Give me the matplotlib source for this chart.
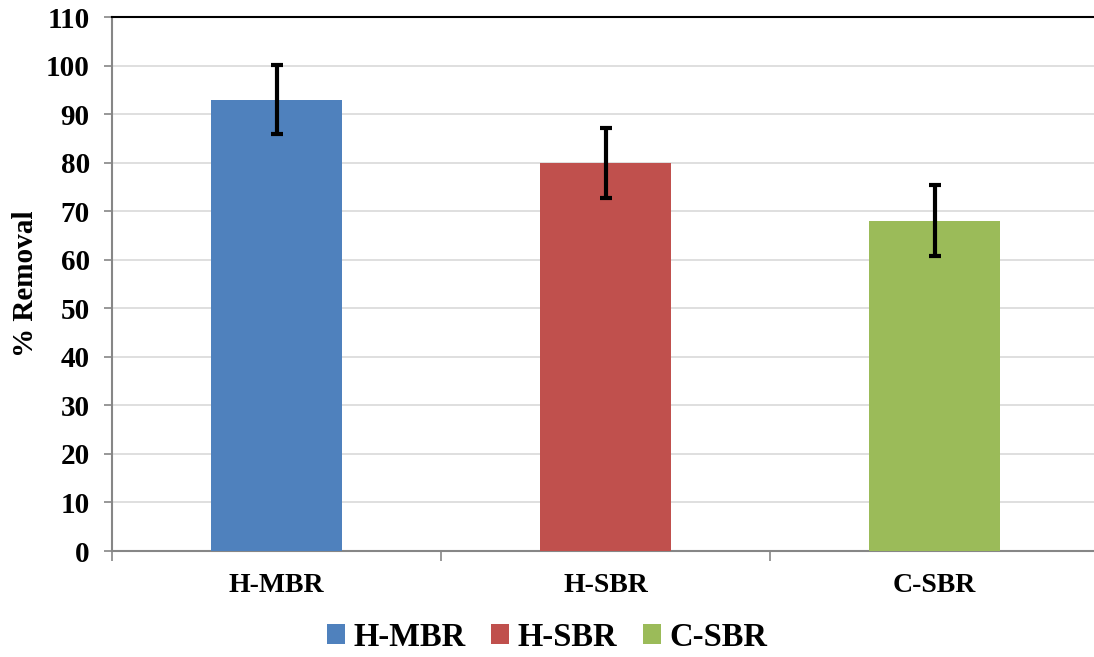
import matplotlib
matplotlib.use("Agg")
import matplotlib.pyplot as plt
from matplotlib.patches import Patch

categories = ["H-MBR", "H-SBR", "C-SBR"]
removal = [93, 80, 68]
errors = [7.2, 7.2, 7.3]
colors = ["#4f81bd", "#c0504d", "#9bbb59"]

plt.rcParams["font.family"] = ["Liberation Serif", "DejaVu Serif"]
plt.rcParams["font.weight"] = "bold"

fig = plt.figure(figsize=(10.94, 6.57), dpi=100)
ax = fig.add_axes([112 / 1094, 1 - 551 / 657, (1099 - 112) / 1094, (551 - 17) / 657])

x = range(len(categories))
ax.bar(x, removal, width=0.4, color=colors, zorder=3)
ax.errorbar(x, removal, yerr=errors, fmt="none", ecolor="black",
            elinewidth=3, capsize=4.5, capthick=3, zorder=4)

ax.set_xlim(-0.5, 2.5)
ax.set_ylim(0, 110)
ax.set_yticks(range(0, 111, 10))
ax.grid(axis="y", color="#d9d9d9", linewidth=1.2, zorder=0)
ax.set_axisbelow(True)

ax.set_xticks(list(x))
ax.set_xticklabels(categories, fontsize=20, fontweight="bold")
ax.tick_params(axis="x", which="major", length=0, pad=16)
ax.set_xticks([-0.5, 0.5, 1.5, 2.5], minor=True)
ax.tick_params(axis="x", which="minor", length=7, color="#868686", width=1.2)
ax.tick_params(axis="y", length=6, color="#868686", width=1.2, labelsize=21, pad=10)
for lbl in ax.get_yticklabels():
    lbl.set_fontweight("bold")

ax.spines["right"].set_visible(False)
ax.spines["top"].set_color("black")
ax.spines["top"].set_linewidth(1.5)
ax.spines["left"].set_color("#868686")
ax.spines["bottom"].set_color("#868686")
ax.spines["left"].set_linewidth(1.5)
ax.spines["bottom"].set_linewidth(1.5)

ax.set_ylabel("% Removal", fontsize=21, fontweight="bold", labelpad=5)

handles = [Patch(facecolor=c, label=l) for c, l in zip(colors, categories)]
fig.legend(handles=handles, loc="center", bbox_to_anchor=(0.5, 1 - 637 / 657), ncol=3,
           frameon=False, prop={"size": 23.5, "weight": "bold"},
           handlelength=0.55, handleheight=0.55, handletextpad=0.25, columnspacing=0.8)

fig.savefig("out.png", dpi=100)
